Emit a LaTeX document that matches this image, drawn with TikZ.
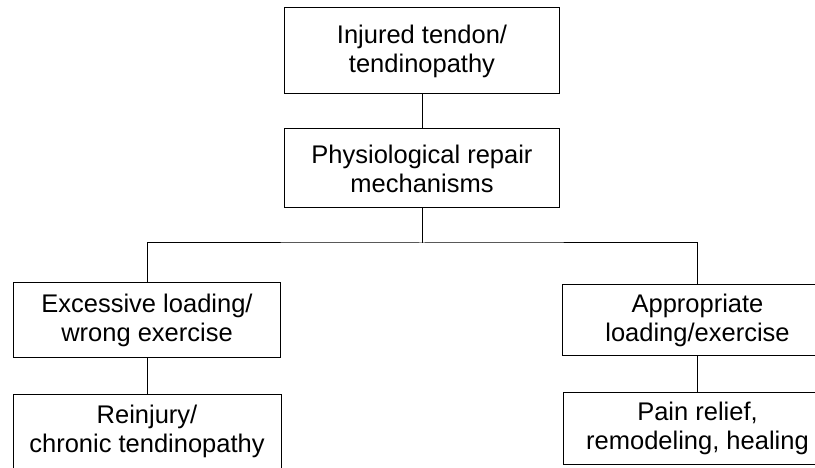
\documentclass[tikz,border=0pt]{standalone}
\usepackage{fontspec}
\setmainfont{Liberation Sans}
\begin{document}
\begin{tikzpicture}[x=1pt,y=-1pt,
  box/.style={draw,line width=1pt,inner sep=0pt,align=center,
    font=\fontsize{25.5}{29}\selectfont},
  wire/.style={line width=1pt}]
\useasboundingbox (0,0) rectangle (815,468);
\node[box,minimum width=275pt,minimum height=86pt] (top) at (422,51) {Injured tendon/\\tendinopathy};
\node[box,minimum width=275pt,minimum height=79pt] (phys) at (422,168.5) {Physiological repair\\mechanisms};
\node[box,minimum width=267pt,minimum height=74pt] (exc) at (147,320) {Excessive loading/\\wrong exercise};
\node[box,minimum width=268pt,minimum height=74pt] (rein) at (147,431) {Reinjury/\\chronic tendinopathy};
\node[box,minimum width=270pt,minimum height=70pt] (app) at (697.5,320) {Appropriate\\loading/exercise};
\node[box,minimum width=268pt,minimum height=72pt] (pain) at (697.5,428) {Pain relief,\\remodeling, healing};
\coordinate (bus) at (422,243);
\draw[wire] (top) -- (phys);
\draw[wire] (phys) -- (bus);
\draw[wire] (exc.north) |- (bus) -| (app.north);
\draw[wire] (exc) -- (rein);
\draw[wire] (app) -- (pain);
\end{tikzpicture}
\end{document}
